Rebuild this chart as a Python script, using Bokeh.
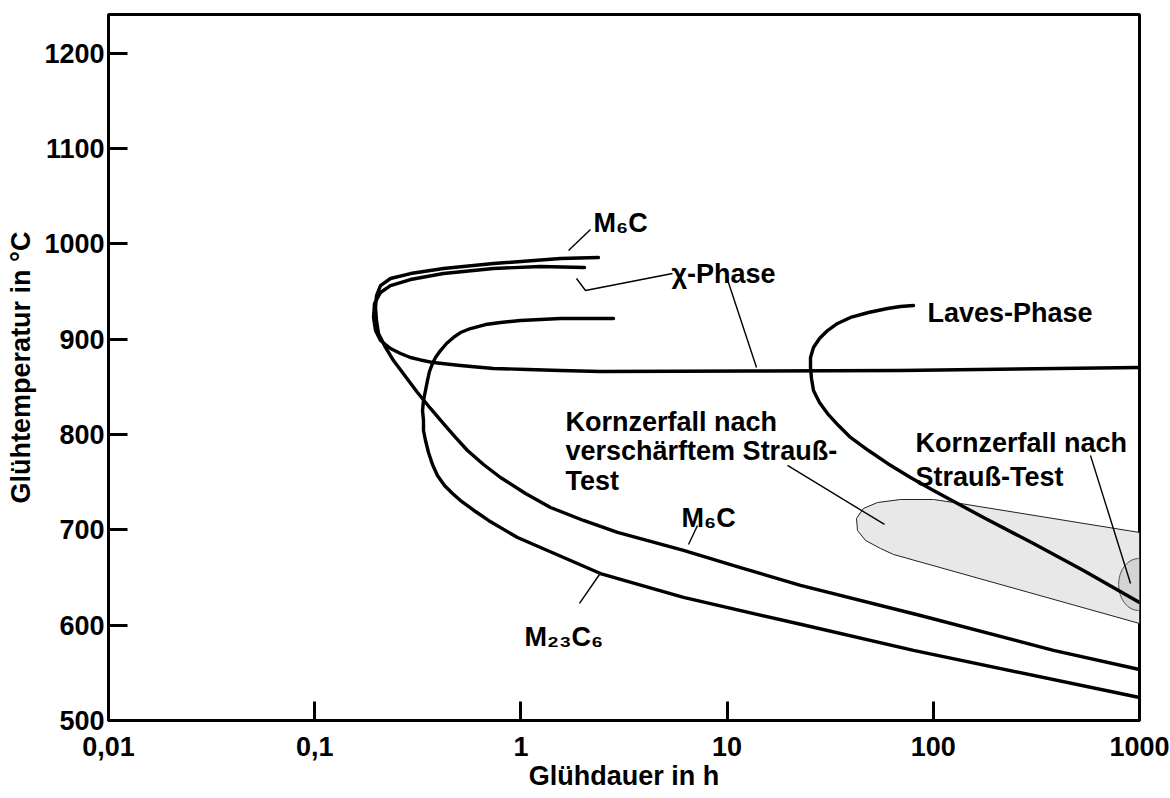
from bokeh.plotting import figure
from bokeh.models import FixedTicker
from bokeh.core.properties import value
from bokeh.embed import file_html
from bokeh.resources import INLINE

FONT = "Liberation Sans"

# axis ticks
x_ticks = [0.01, 0.1, 1, 10, 100, 1000]
x_tick_labels = ["0,01", "0,1", "1", "10", "100", "1000"]
y_ticks = [500, 600, 700, 800, 900, 1000, 1100, 1200]

# M6C C-curve (Glühdauer h, Temperatur °C)
m6c_t = [2.378, 1.556, 0.7364, 0.4213, 0.2914, 0.2331, 0.2085, 0.1994, 0.1972, 0.1994,
         0.2039, 0.2205, 0.2411, 0.2756, 0.3151, 0.3644, 0.4213, 0.4817, 0.5508, 0.6586,
         0.7963, 1.053, 1.392, 2.012, 2.942, 6.146, 11.61, 22.70, 86.66, 382.8, 1000]
m6c_T = [985.8, 984.8, 979.5, 974.3, 969.0, 963.8, 956.4, 945.9, 933.4, 919.7,
         906.1, 891.4, 877.7, 860.9, 844.2, 827.4, 811.6, 797.0, 783.3, 768.6,
         755.0, 738.2, 723.5, 709.9, 697.3, 678.4, 660.5, 641.7, 610.2, 573.5, 553.5]

# chi-Phase
chi_t = [2.034, 1.245, 0.7364, 0.4213, 0.2914, 0.2331, 0.2085, 0.1950, 0.1929, 0.1972,
         0.2085, 0.2331, 0.2607, 0.2914, 0.3259, 0.3768, 0.4357, 0.5095, 0.6093, 0.7364,
         1.076, 1.556, 2.432, 12.99, 69.32, 1000]
chi_T = [975.3, 976.4, 974.3, 969.0, 962.7, 956.4, 949.1, 937.6, 922.9, 909.2,
         898.7, 890.3, 885.1, 880.9, 878.3, 875.6, 874.1, 872.5, 870.9, 869.4,
         868.3, 867.3, 866.2, 866.7, 867.3, 870.4]

# M23C6
m23_t = [2.813, 1.945, 1.556, 1.245, 0.9956, 0.7963, 0.6735, 0.5696, 0.5095, 0.4710,
         0.4357, 0.4075, 0.3853, 0.3726, 0.3603, 0.3524, 0.3446, 0.3370, 0.3333, 0.3370,
         0.3370, 0.3446, 0.3564, 0.3726, 0.3938, 0.4261, 0.4659, 0.5095, 0.6025, 0.6965,
         0.9627, 2.432, 6.146, 22.70, 80.17, 1000]
m23_T = [921.8, 921.8, 921.8, 920.8, 919.7, 917.6, 915.5, 911.3, 907.1, 901.9,
         895.6, 888.2, 880.9, 874.6, 866.2, 856.8, 846.3, 835.8, 825.3, 814.8,
         804.3, 793.8, 781.2, 768.6, 757.1, 746.6, 738.2, 730.8, 719.3, 709.9,
         692.0, 654.2, 629.1, 601.0, 573.5, 524.1]

# Laves-Phase
laves_t = [80.17, 69.32, 59.97, 48.51, 39.67, 34.31, 30.69, 28.06, 26.24, 25.38,
           25.38, 25.66, 26.24, 28.06, 30.69, 34.70, 39.67, 48.51, 59.97, 77.51,
           100.2, 175.2, 306.1, 535.0, 1000]
laves_T = [935.5, 934.4, 932.3, 928.1, 922.9, 916.6, 909.2, 900.8, 891.4, 880.9,
           870.4, 858.9, 846.3, 833.7, 822.1, 809.5, 797.0, 783.3, 769.7, 755.0,
           741.3, 713.0, 685.7, 657.4, 623.8]

# Kornzerfall nach verschärftem Strauß-Test (region)
reg_t = [1000, 135.5, 100.2, 69.32, 53.62, 45.85, 42.42, 42.90, 46.92, 55.46, 64.12, 1000]
reg_T = [697.3, 727.7, 731.9, 731.9, 728.7, 722.5, 712.0, 699.4, 688.9, 680.5, 674.2, 601.8]

# Kornzerfall nach Strauß-Test (small region at right edge)
strauss_t = [990]
strauss_T = [642.7]

# leader lines
ptr_xs = [[1.702, 2.175], [5.435, 2.057, 1.860], [10.04, 13.89], [19.63, 57.99],
          [578.6, 904.5], [7.186, 6.499], [2.405, 1.924]]
ptr_ys = [[993.2, 1015.2], [969.0, 951.2, 963.8], [962.7, 870.4], [767.6, 705.7],
          [778.1, 643.8], [704.6, 684.7], [653.2, 622.8]]

# labels
label_text = ["M\u2086C", "\u03c7-Phase", "Laves-Phase", "Kornzerfall nach",
              "verschärftem Strauß-", "Test", "M\u2086C", "M\u2082\u2083C\u2086",
              "Kornzerfall nach", "Strauß-Test"]
label_t = [2.250, 5.375, 93.74, 1.646, 1.646, 1.646, 6.010, 1.041, 81.97, 81.97]
label_T = [1021.5, 968.0, 927.1, 812.7, 782.3, 751.8, 712.0, 587.1, 790.7, 755.0]

p = figure(width=1170, height=798, x_axis_type="log", x_range=(0.01, 1000),
           y_range=(500, 1240.8), output_backend="svg", toolbar_location=None,
           title=None, min_border_left=108, min_border_right=31,
           min_border_top=14, min_border_bottom=78)

p.xgrid.visible = False
p.ygrid.visible = False
p.outline_line_color = "black"
p.outline_line_width = 3
p.background_fill_color = "white"
p.border_fill_color = "white"

p.xaxis.ticker = FixedTicker(ticks=x_ticks)
p.xaxis.major_label_overrides = {t: l for t, l in zip(x_ticks, x_tick_labels)}
p.yaxis.ticker = FixedTicker(ticks=y_ticks)
p.xaxis.axis_label = "Glühdauer in h"
p.yaxis.axis_label = "Glühtemperatur in °C"

for ax in (p.xaxis[0], p.yaxis[0]):
    ax.axis_line_width = 3
    ax.axis_line_color = "black"
    ax.major_tick_in = 19
    ax.major_tick_out = 0
    ax.major_tick_line_width = 3
    ax.major_tick_line_color = "black"
    ax.minor_tick_line_color = None
    ax.major_label_text_font = FONT
    ax.major_label_text_font_style = "bold"
    ax.major_label_text_font_size = "27px"
    ax.major_label_text_color = "black"
    ax.axis_label_text_font = FONT
    ax.axis_label_text_font_style = "bold"
    ax.axis_label_text_font_size = "27px"
    ax.axis_label_text_color = "black"

p.xaxis.major_label_standoff = 16
p.xaxis.axis_label_standoff = 2
p.yaxis.major_label_standoff = 4
p.yaxis.axis_label_standoff = 5

# shaded regions
p.patch(reg_t, reg_T, fill_color="#e8e8e8", line_color="#222222", line_width=1)
p.ellipse(x=strauss_t, y=strauss_T, width=40, height=52, width_units="screen",
          height_units="screen", fill_color="#bdbdbd", fill_alpha=0.45,
          line_color="#555555", line_width=1)

# curves
for xs, ys in [(m6c_t, m6c_T), (chi_t, chi_T), (m23_t, m23_T), (laves_t, laves_T)]:
    p.line(xs, ys, line_color="black", line_width=3.4, line_join="round", line_cap="round")

p.multi_line(ptr_xs, ptr_ys, line_color="black", line_width=1.4)

p.text(x=label_t, y=label_T, text=label_text, text_font=value(FONT),
       text_font_style="bold", text_font_size="27px", text_color="black",
       text_align="left", text_baseline="alphabetic")

open("out.html", "w").write(file_html(p, INLINE))
